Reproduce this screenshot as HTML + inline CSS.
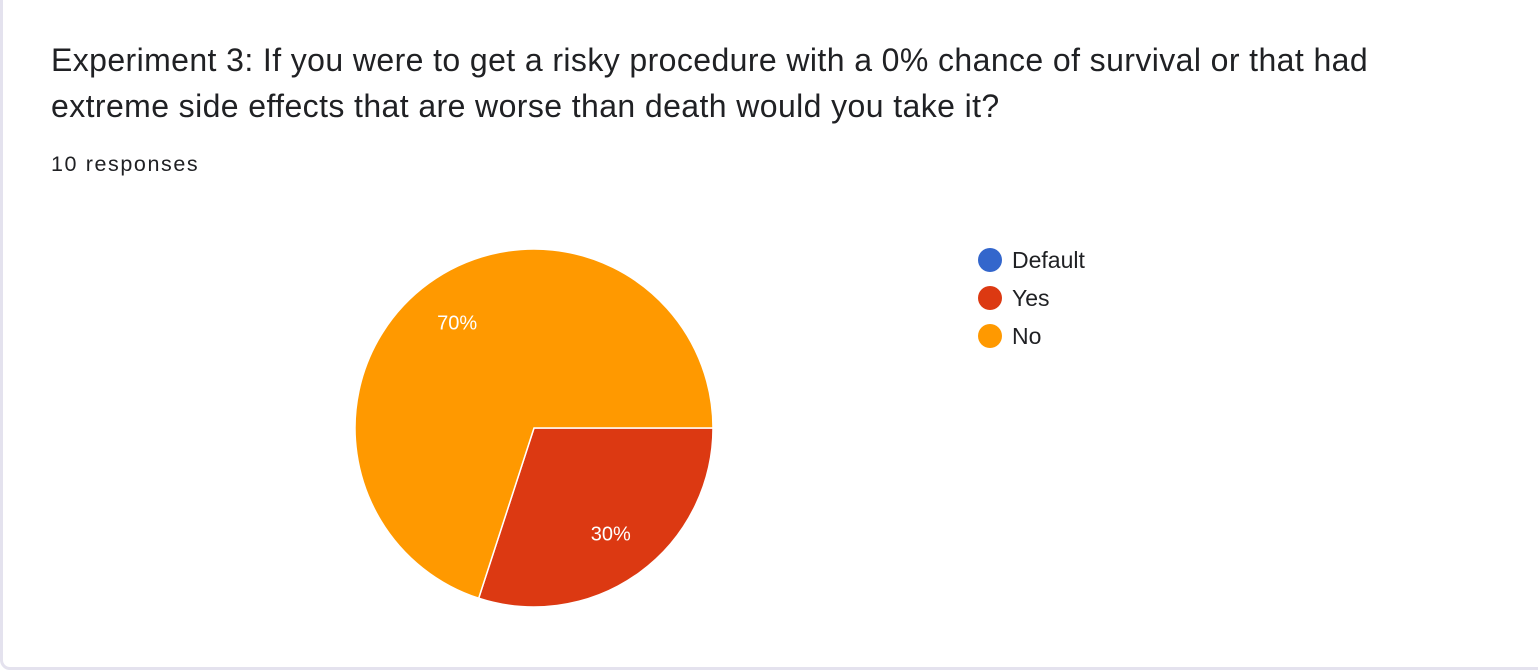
<!DOCTYPE html>
<html><head><meta charset="utf-8"><style>
html,body{margin:0;padding:0;background:#fff;width:1538px;height:672px;overflow:hidden;font-family:"Liberation Sans",Arial,sans-serif;}
#card{position:absolute;left:0;top:-10px;width:1560px;height:680px;border:3px solid #e4e2ee;border-radius:10px;background:#fff;box-sizing:border-box;}
#title{position:absolute;left:51px;top:37px;font-size:32px;line-height:46px;color:#202124;width:1360px;letter-spacing:0.4px;}
#count{position:absolute;left:51px;top:152px;font-size:21.5px;color:#202124;letter-spacing:1.6px;}
svg{position:absolute;left:0;top:0;}
</style></head><body>
<div id="card"></div>
<div id="title">Experiment 3: If you were to get a risky procedure with a 0% chance of survival or that had extreme side effects that are worse than death would you take it?</div>
<div id="count">10 responses</div>
<svg id="chart" width="1538" height="672"></svg>
<script>
const categories = ["Default","Yes","No"];
const values = [0,3,7];
const colors = ["#3366cc","#dc3912","#ff9900"];
const svg = document.getElementById('chart');
const NS = "http://www.w3.org/2000/svg";
const cx=534, cy=428, r=179;
const total = values.reduce((a,b)=>a+b,0);
function pt(a,rr){return [cx+rr*Math.sin(a), cy-rr*Math.cos(a)];}
let ang = Math.PI/2;
values.forEach((v,i)=>{
  if(v<=0) return;
  const frac=v/total, a0=ang, a1=ang+frac*2*Math.PI;
  const [x0,y0]=pt(a0,r),[x1,y1]=pt(a1,r);
  const p=document.createElementNS(NS,'path');
  p.setAttribute('d',`M${cx},${cy} L${x0},${y0} A${r},${r} 0 ${frac>0.5?1:0} 1 ${x1},${y1} Z`);
  p.setAttribute('fill',colors[i]);p.setAttribute('stroke','#fff');p.setAttribute('stroke-width','1.5');
  
  
  svg.appendChild(p);
  const [lx,ly]=pt((a0+a1)/2,r*0.73);
  const t=document.createElementNS(NS,'text');
  t.setAttribute('x',lx);t.setAttribute('y',ly+7);t.setAttribute('text-anchor','middle');
  t.setAttribute('font-size','20');t.setAttribute('fill','#fff');t.setAttribute('font-family','Liberation Sans, Arial, sans-serif');
  t.textContent=Math.round(frac*100)+'%';
  
  
  svg.appendChild(t);
  ang=a1;
});
categories.forEach((c,i)=>{
  const g=document.createElementNS(NS,'g');
  
  
  const y=260+i*38;
  const ci=document.createElementNS(NS,'circle');
  ci.setAttribute('cx',990);ci.setAttribute('cy',y);ci.setAttribute('r',12);ci.setAttribute('fill',colors[i]);
  g.appendChild(ci);
  const t=document.createElementNS(NS,'text');
  t.setAttribute('x',1012);t.setAttribute('y',y+8);t.setAttribute('font-size','23');t.setAttribute('fill','#202124');
  t.setAttribute('font-family','Liberation Sans, Arial, sans-serif');
  t.textContent=c;
  g.appendChild(t);
  svg.appendChild(g);
});
</script>
</body></html>
